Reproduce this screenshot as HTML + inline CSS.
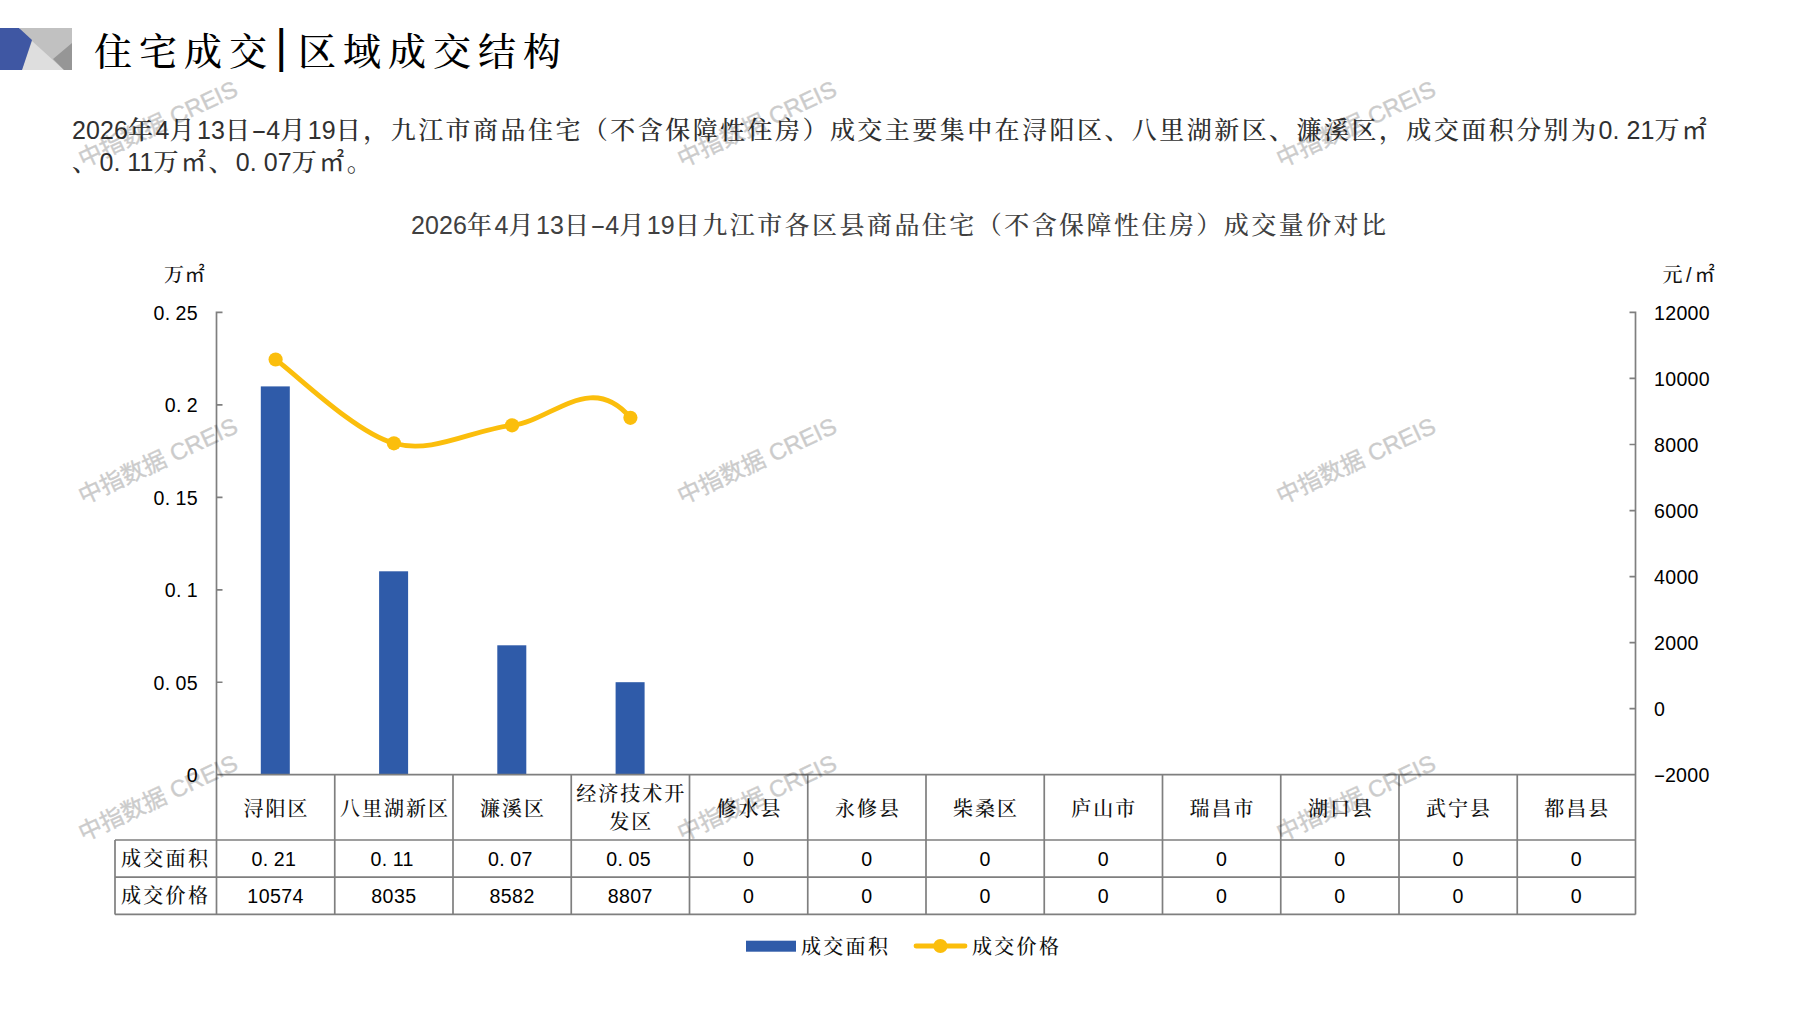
<!DOCTYPE html>
<html lang="zh-CN"><head><meta charset="utf-8"><title>住宅成交|区域成交结构</title>
<style>
html,body{margin:0;padding:0;background:#fff}
body{width:1797px;height:1010px;position:relative;overflow:hidden;font-family:"Liberation Sans","Noto Serif CJK SC",serif;color:#222}
.abs{position:absolute;white-space:nowrap}
i{font-style:normal}
.ttl{left:94px;top:24px;height:50px;line-height:50px;font-size:38px;letter-spacing:7px;color:#000;font-weight:500}
.ttl .bar{display:inline-block;width:14.2px;margin-right:9.7px;letter-spacing:0;text-align:center;font-size:46px;font-weight:400;position:relative;top:-3px}
.ttl .t2{letter-spacing:7px}
.para{left:72px;top:114px;width:1720px;font-size:25px;letter-spacing:2.45px;line-height:32px;color:#303030;font-weight:500}
.para b,.ct b{font-weight:400;letter-spacing:.1px}
.para .p,.ct .p{letter-spacing:6.9px}
.h{display:inline-block;width:13.9px;text-align:center;letter-spacing:0;transform:scaleX(1.85)}
.ct{left:411px;top:209px;height:32px;line-height:32px;font-size:25px;letter-spacing:2.45px;color:#404040;font-weight:500}
.ax{letter-spacing:.3px;font-size:19.6px;line-height:22px;height:22px;color:#000}
.ax .p{letter-spacing:5.4px}
.hs{width:10.9px}
.m{font-family:"Liberation Sans","Noto Sans CJK SC",sans-serif;font-weight:400}
.sl{display:inline-block;width:11.5px;text-align:center}
.axl{text-align:right;width:90px;left:108px}
.axr{left:1654px}
.unit{letter-spacing:.8px;font-size:20px;line-height:24px;height:24px;color:#111;font-weight:500}
.cat{font-weight:500;font-size:20px;letter-spacing:2px;text-align:center;line-height:28.5px;color:#111;white-space:normal}
.cell{letter-spacing:.4px;font-size:19.6px;text-align:center;line-height:24px;height:24px;color:#000}
.cell .p{letter-spacing:5.4px}
.lab{font-weight:500;font-size:20px;letter-spacing:2.3px;line-height:24px;height:24px;color:#111}
.wm{font-family:"Liberation Sans","Noto Sans CJK SC",sans-serif;font-size:23.5px;line-height:30px;height:30px;width:240px;text-align:center;color:#000;-webkit-text-stroke:.45px #000;opacity:.2;transform:rotate(-25deg);transform-origin:50% 50%}
</style></head><body>

<svg class="abs" style="left:0;top:27px" width="74" height="44" viewBox="0 27 74 44">
<rect x="20" y="28" width="52" height="42" fill="#c1c1c1"/>
<polygon points="22,70 32,41 64,70" fill="#dedede"/>
<polygon points="72,43 53,59 64,70 72,70" fill="#969696"/>
<polygon points="0,28 19,28 32,40 22,70 0,70" fill="#3f57a3"/>
</svg>
<div class="abs ttl">住宅成交<i class="bar">|</i><i class="t2">区域成交结构</i></div>
<div class="abs para"><b>2026</b>年<b>4</b>月<b>13</b>日<b><i class="h">-</i>4</b>月<b>19</b>日，九江市商品住宅（不含保障性住房）成交主要集中在浔阳区、八里湖新区、濂溪区，成交面积分别为<b>0<i class="p">.</i>21</b>万<i class="m">㎡</i><br>、<b>0<i class="p">.</i>11</b>万<i class="m">㎡</i>、<b>0<i class="p">.</i>07</b>万<i class="m">㎡</i>。</div>
<div class="abs ct"><b>2026</b>年<b>4</b>月<b>13</b>日<b><i class="h">-</i>4</b>月<b>19</b>日九江市各区县商品住宅（不含保障性住房）成交量价对比</div>
<svg class="abs" style="left:0;top:0" width="1797" height="1010" viewBox="0 0 1797 1010">
<rect x="260.8" y="386.4" width="29.0" height="388.3" fill="#2f5ba9"/>
<rect x="379.1" y="571.3" width="29.0" height="203.4" fill="#2f5ba9"/>
<rect x="497.3" y="645.3" width="29.0" height="129.4" fill="#2f5ba9"/>
<rect x="615.6" y="682.2" width="29.0" height="92.5" fill="#2f5ba9"/>
<path d="M216.5 311.6V914.4M1635.5 311.6V914.4M216.5 774.7H1635.5M115.0 840.0H1635.5M115.0 877.2H1635.5M115.0 914.4H1635.5M115.0 840.0V914.4M334.75 774.7V914.4M453.00 774.7V914.4M571.25 774.7V914.4M689.50 774.7V914.4M807.75 774.7V914.4M926.00 774.7V914.4M1044.25 774.7V914.4M1162.50 774.7V914.4M1280.75 774.7V914.4M1399.00 774.7V914.4M1517.25 774.7V914.4M216.5 774.70h6M216.5 682.24h6M216.5 589.78h6M216.5 497.32h6M216.5 404.86h6M216.5 312.40h6M1635.5 774.70h-6M1635.5 708.66h-6M1635.5 642.61h-6M1635.5 576.57h-6M1635.5 510.53h-6M1635.5 444.49h-6M1635.5 378.44h-6M1635.5 312.40h-6" fill="none" stroke="#7f7f7f" stroke-width="1.7"/>
<path d="M275.6 359.5C295.3 373.5 354.5 432.4 393.9 443.3C433.3 454.3 472.7 429.5 512.1 425.3C551.5 421.0 591.0 370.6 630.4 417.8" fill="none" stroke="#fbbe0c" stroke-width="4.8" stroke-linecap="round"/>
<circle cx="275.6" cy="359.5" r="7.1" fill="#fbbe0c"/>
<circle cx="393.9" cy="443.3" r="7.1" fill="#fbbe0c"/>
<circle cx="512.1" cy="425.3" r="7.1" fill="#fbbe0c"/>
<circle cx="630.4" cy="417.8" r="7.1" fill="#fbbe0c"/>
<rect x="746" y="940.7" width="50" height="11" fill="#2f5ba9"/>
<path d="M916 946H965" stroke="#fbbe0c" stroke-width="4.8" stroke-linecap="round"/>
<circle cx="940.4" cy="946" r="7.1" fill="#fbbe0c"/>
</svg>
<div class="abs unit" style="left:164px;top:263px">万<i class="m">㎡</i></div>
<div class="abs unit" style="left:1662.5px;top:263px">元<i class="sl">/</i><i class="m">㎡</i></div>
<div class="abs ax axl" style="top:764.2px">0</div>
<div class="abs ax axl" style="top:671.7px">0<i class="p">.</i>05</div>
<div class="abs ax axl" style="top:579.3px">0<i class="p">.</i>1</div>
<div class="abs ax axl" style="top:486.8px">0<i class="p">.</i>15</div>
<div class="abs ax axl" style="top:394.4px">0<i class="p">.</i>2</div>
<div class="abs ax axl" style="top:301.9px">0<i class="p">.</i>25</div>
<div class="abs ax axr" style="top:764.2px"><i class="h hs">-</i>2000</div>
<div class="abs ax axr" style="top:698.2px">0</div>
<div class="abs ax axr" style="top:632.1px">2000</div>
<div class="abs ax axr" style="top:566.1px">4000</div>
<div class="abs ax axr" style="top:500.0px">6000</div>
<div class="abs ax axr" style="top:434.0px">8000</div>
<div class="abs ax axr" style="top:367.9px">10000</div>
<div class="abs ax axr" style="top:301.9px">12000</div>
<div class="abs cat" style="left:206.5px;width:140.2px;top:794.5px">浔阳区</div>
<div class="abs cat" style="left:324.8px;width:140.2px;top:794.5px">八里湖新区</div>
<div class="abs cat" style="left:443.0px;width:140.2px;top:794.5px">濂溪区</div>
<div class="abs cat" style="left:561.2px;width:140.2px;top:779.5px">经济技术开<br>发区</div>
<div class="abs cat" style="left:679.5px;width:140.2px;top:794.5px">修水县</div>
<div class="abs cat" style="left:797.8px;width:140.2px;top:794.5px">永修县</div>
<div class="abs cat" style="left:916.0px;width:140.2px;top:794.5px">柴桑区</div>
<div class="abs cat" style="left:1034.2px;width:140.2px;top:794.5px">庐山市</div>
<div class="abs cat" style="left:1152.5px;width:140.2px;top:794.5px">瑞昌市</div>
<div class="abs cat" style="left:1270.8px;width:140.2px;top:794.5px">湖口县</div>
<div class="abs cat" style="left:1389.0px;width:140.2px;top:794.5px">武宁县</div>
<div class="abs cat" style="left:1507.2px;width:140.2px;top:794.5px">都昌县</div>
<div class="abs lab" style="left:121px;top:846.6px">成交面积</div>
<div class="abs lab" style="left:121px;top:883.8px">成交价格</div>
<div class="abs cell" style="left:214.8px;width:118.2px;top:847.1px">0<i class="p">.</i>21</div>
<div class="abs cell" style="left:216.5px;width:118.2px;top:884.3px">10574</div>
<div class="abs cell" style="left:333.1px;width:118.2px;top:847.1px">0<i class="p">.</i>11</div>
<div class="abs cell" style="left:334.8px;width:118.2px;top:884.3px">8035</div>
<div class="abs cell" style="left:451.3px;width:118.2px;top:847.1px">0<i class="p">.</i>07</div>
<div class="abs cell" style="left:453.0px;width:118.2px;top:884.3px">8582</div>
<div class="abs cell" style="left:569.5px;width:118.2px;top:847.1px">0<i class="p">.</i>05</div>
<div class="abs cell" style="left:571.2px;width:118.2px;top:884.3px">8807</div>
<div class="abs cell" style="left:689.5px;width:118.2px;top:847.1px">0</div>
<div class="abs cell" style="left:689.5px;width:118.2px;top:884.3px">0</div>
<div class="abs cell" style="left:807.8px;width:118.2px;top:847.1px">0</div>
<div class="abs cell" style="left:807.8px;width:118.2px;top:884.3px">0</div>
<div class="abs cell" style="left:926.0px;width:118.2px;top:847.1px">0</div>
<div class="abs cell" style="left:926.0px;width:118.2px;top:884.3px">0</div>
<div class="abs cell" style="left:1044.2px;width:118.2px;top:847.1px">0</div>
<div class="abs cell" style="left:1044.2px;width:118.2px;top:884.3px">0</div>
<div class="abs cell" style="left:1162.5px;width:118.2px;top:847.1px">0</div>
<div class="abs cell" style="left:1162.5px;width:118.2px;top:884.3px">0</div>
<div class="abs cell" style="left:1280.8px;width:118.2px;top:847.1px">0</div>
<div class="abs cell" style="left:1280.8px;width:118.2px;top:884.3px">0</div>
<div class="abs cell" style="left:1399.0px;width:118.2px;top:847.1px">0</div>
<div class="abs cell" style="left:1399.0px;width:118.2px;top:884.3px">0</div>
<div class="abs cell" style="left:1517.2px;width:118.2px;top:847.1px">0</div>
<div class="abs cell" style="left:1517.2px;width:118.2px;top:884.3px">0</div>
<div class="abs lab" style="left:801px;top:935px">成交面积</div>
<div class="abs lab" style="left:972px;top:935px">成交价格</div>
<div class="abs wm" style="left:38.0px;top:109.0px">中指数据 CREIS</div>
<div class="abs wm" style="left:637.0px;top:109.0px">中指数据 CREIS</div>
<div class="abs wm" style="left:1236.0px;top:109.0px">中指数据 CREIS</div>
<div class="abs wm" style="left:38.0px;top:445.5px">中指数据 CREIS</div>
<div class="abs wm" style="left:637.0px;top:445.5px">中指数据 CREIS</div>
<div class="abs wm" style="left:1236.0px;top:445.5px">中指数据 CREIS</div>
<div class="abs wm" style="left:38.0px;top:783.0px">中指数据 CREIS</div>
<div class="abs wm" style="left:637.0px;top:783.0px">中指数据 CREIS</div>
<div class="abs wm" style="left:1236.0px;top:783.0px">中指数据 CREIS</div>
</body></html>
